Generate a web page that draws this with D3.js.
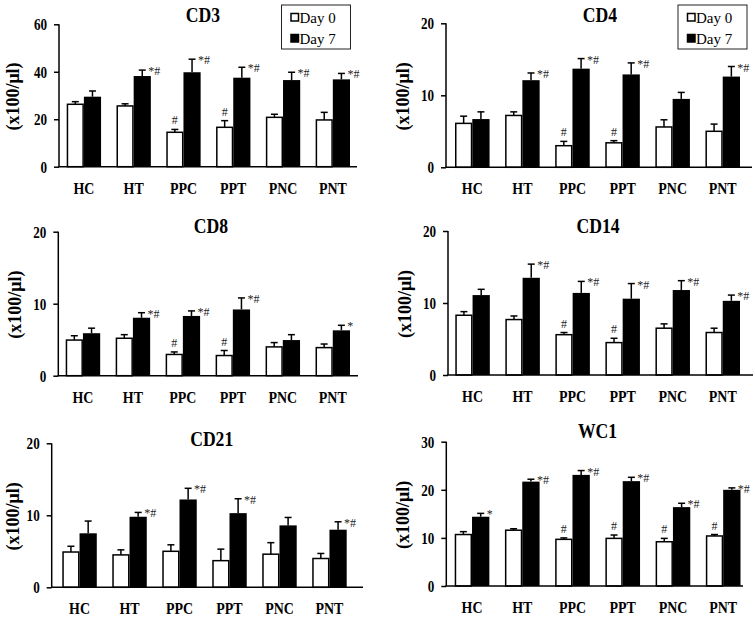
<!DOCTYPE html>
<html>
<head>
<meta charset="utf-8">
<script src="https://cdn.jsdelivr.net/npm/d3@7"></script>
<style>
  html, body { margin: 0; padding: 0; background: #fff; }
  svg { display: block; }
  text { font-family: "Liberation Serif", "Times New Roman", serif; }
</style>
</head>
<body>
<svg id="chart" width="755" height="617"></svg>
<script>
// ---------- DATA ----------
const categories = ["HC", "HT", "PPC", "PPT", "PNC", "PNT"];
const seriesNames = ["Day 0", "Day 7"];
const yLabel = "(x100/\u03bcl)";

const cd3Day0 = [26.3, 25.6, 14.5, 16.6, 20.8, 19.7];
const cd3Day0Err = [1.1, 0.9, 1.2, 2.8, 1.3, 3.2];
const cd3Day7 = [29.5, 38.2, 39.8, 37.5, 36.5, 36.8];
const cd3Day7Err = [2.4, 2.5, 5.5, 4.4, 3.3, 2.5];
const cd3Day0Sig = ["", "", "#", "#", "", ""];
const cd3Day7Sig = ["", "*#", "*#", "*#", "*#", "*#"];
const cd3Ticks = [0, 20, 40, 60];

const cd4Day0 = [6.1, 7.2, 3.0, 3.4, 5.6, 5.0];
const cd4Day0Err = [1.0, 0.5, 0.6, 0.3, 1.0, 1.0];
const cd4Day7 = [6.7, 12.1, 13.7, 12.9, 9.5, 12.6];
const cd4Day7Err = [1.0, 1.0, 1.4, 1.6, 0.9, 1.4];
const cd4Day0Sig = ["", "", "#", "#", "", ""];
const cd4Day7Sig = ["", "*#", "*#", "*#", "", "*#"];
const cd4Ticks = [0, 10, 20];

const cd8Day0 = [4.95, 5.2, 2.95, 2.8, 4.0, 3.9];
const cd8Day0Err = [0.6, 0.5, 0.35, 0.7, 0.6, 0.5];
const cd8Day7 = [5.9, 8.05, 8.3, 9.2, 4.95, 6.3];
const cd8Day7Err = [0.7, 0.7, 0.7, 1.6, 0.75, 0.7];
const cd8Day0Sig = ["", "", "#", "#", "", ""];
const cd8Day7Sig = ["", "*#", "*#", "*#", "", "*"];
const cd8Ticks = [0, 10, 20];

const cd14Day0 = [8.3, 7.7, 5.6, 4.5, 6.5, 5.9];
const cd14Day0Err = [0.5, 0.5, 0.3, 0.6, 0.6, 0.6];
const cd14Day7 = [11.1, 13.5, 11.4, 10.6, 11.8, 10.3];
const cd14Day7Err = [0.8, 1.9, 1.6, 2.1, 1.3, 0.8];
const cd14Day0Sig = ["", "", "#", "#", "", ""];
const cd14Day7Sig = ["", "*#", "*#", "*#", "*#", "*#"];
const cd14Ticks = [0, 10, 20];

const cd21Day0 = [4.9, 4.5, 5.0, 3.7, 4.6, 4.0];
const cd21Day0Err = [0.8, 0.7, 0.9, 1.6, 1.6, 0.7];
const cd21Day7 = [7.5, 9.8, 12.2, 10.3, 8.6, 8.0];
const cd21Day7Err = [1.7, 0.6, 1.55, 2.0, 1.1, 1.1];
const cd21Day0Sig = ["", "", "", "", "", ""];
const cd21Day7Sig = ["", "*#", "*#", "*#", "", "*#"];
const cd21Ticks = [0, 10, 20];

const wc1Day0 = [10.7, 11.6, 9.7, 9.9, 9.2, 10.4];
const wc1Day0Err = [0.6, 0.3, 0.3, 0.7, 0.7, 0.3];
const wc1Day7 = [14.4, 21.7, 23.1, 21.8, 16.4, 20.0];
const wc1Day7Err = [0.7, 0.5, 0.9, 0.8, 0.8, 0.4];
const wc1Day0Sig = ["", "", "#", "#", "#", "#"];
const wc1Day7Sig = ["*", "*#", "*#", "*#", "*#", "*#"];
const wc1Ticks = [0, 10, 20, 30];

// ---------- LAYOUT ----------
const panels = [
  { title: "CD3", d0: cd3Day0, e0: cd3Day0Err, d7: cd3Day7, e7: cd3Day7Err, s0: cd3Day0Sig, s7: cd3Day7Sig, ticks: cd3Ticks,
    axisX: 59, axisEnd: 357, yTop: 24.3, y0: 166.7, barL: 66.7, barR: 350, titleX: 203, titleY: 21.7, labX: 19, legend: [281.5, 5] },
  { title: "CD4", d0: cd4Day0, e0: cd4Day0Err, d7: cd4Day7, e7: cd4Day7Err, s0: cd4Day0Sig, s7: cd4Day7Sig, ticks: cd4Ticks,
    axisX: 446, axisEnd: 752, yTop: 23.3, y0: 167.3, barL: 455, barR: 740, titleX: 600, titleY: 21.7, labX: 409, legend: [678, 5] },
  { title: "CD8", d0: cd8Day0, e0: cd8Day0Err, d7: cd8Day7, e7: cd8Day7Err, s0: cd8Day0Sig, s7: cd8Day7Sig, ticks: cd8Ticks,
    axisX: 58.3, axisEnd: 358, yTop: 231.7, y0: 375.7, barL: 65.7, barR: 350, titleX: 211, titleY: 233, labX: 21, legend: null },
  { title: "CD14", d0: cd14Day0, e0: cd14Day0Err, d7: cd14Day7, e7: cd14Day7Err, s0: cd14Day0Sig, s7: cd14Day7Sig, ticks: cd14Ticks,
    axisX: 448, axisEnd: 753, yTop: 231, y0: 375, barL: 455.3, barR: 740, titleX: 598, titleY: 233, labX: 411, legend: null },
  { title: "CD21", d0: cd21Day0, e0: cd21Day0Err, d7: cd21Day7, e7: cd21Day7Err, s0: cd21Day0Sig, s7: cd21Day7Sig, ticks: cd21Ticks,
    axisX: 51.7, axisEnd: 363, yTop: 443.3, y0: 587.3, barL: 62.3, barR: 346.7, titleX: 211.7, titleY: 446, labX: 19, legend: null },
  { title: "WC1", d0: wc1Day0, e0: wc1Day0Err, d7: wc1Day7, e7: wc1Day7Err, s0: wc1Day0Sig, s7: wc1Day7Sig, ticks: wc1Ticks,
    axisX: 446.3, axisEnd: 743, yTop: 441.7, y0: 586, barL: 454.7, barR: 740.5, titleX: 597.5, titleY: 438.3, labX: 409, legend: null }
];

const SX = 0.82; // horizontal squeeze of the original artwork's lettering

const svg = d3.select("#chart");

function squeezedText(sel, x, y, size, anchor, txt) {
  return sel.append("text")
    .attr("transform", `translate(${x},${y}) scale(${SX},1)`)
    .attr("text-anchor", anchor)
    .attr("font-size", size).attr("font-weight", "bold")
    .text(txt);
}

panels.forEach(p => {
  const g = svg.append("g");
  const maxV = p.ticks[p.ticks.length - 1];
  const y = d3.scaleLinear().domain([0, maxV]).range([p.y0, p.yTop]);
  const x = d3.scaleBand().domain(categories).range([p.barL, p.barR]).paddingInner(0.31).paddingOuter(0);
  const sub = d3.scaleBand().domain(seriesNames).range([0, x.bandwidth()]).padding(0);

  const rows = categories.map((c, i) => ({
    c,
    vals: [
      { s: seriesNames[0], v: p.d0[i], e: p.e0[i], sig: p.s0[i] },
      { s: seriesNames[1], v: p.d7[i], e: p.e7[i], sig: p.s7[i] }
    ]
  }));

  const grp = g.selectAll("g.grp").data(rows).enter().append("g")
    .attr("transform", d => `translate(${x(d.c)},0)`);
  grp.selectAll("rect").data(d => d.vals).enter().append("rect")
    .attr("x", d => sub(d.s) + (d.s === seriesNames[0] ? 0.75 : 0))
    .attr("width", d => sub.bandwidth() - (d.s === seriesNames[0] ? 1.5 : 0))
    .attr("y", d => y(d.v))
    .attr("height", d => p.y0 - y(d.v))
    .attr("fill", d => d.s === seriesNames[0] ? "#fff" : "#000")
    .attr("stroke", "#000")
    .attr("stroke-width", d => d.s === seriesNames[0] ? 1.5 : 0);

  grp.selectAll("line.err").data(d => d.vals).enter().append("line")
    .attr("x1", d => sub(d.s) + sub.bandwidth() / 2)
    .attr("x2", d => sub(d.s) + sub.bandwidth() / 2)
    .attr("y1", d => y(d.v))
    .attr("y2", d => y(d.v + d.e))
    .attr("stroke", "#000").attr("stroke-width", 1.5);
  grp.selectAll("line.cap").data(d => d.vals).enter().append("line")
    .attr("x1", d => sub(d.s) + sub.bandwidth() / 2 - 3.5)
    .attr("x2", d => sub(d.s) + sub.bandwidth() / 2 + 3.5)
    .attr("y1", d => y(d.v + d.e))
    .attr("y2", d => y(d.v + d.e))
    .attr("stroke", "#000").attr("stroke-width", 1.5);

  grp.selectAll("text.sig").data(d => d.vals.filter(v => v.sig)).enter().append("text")
    .attr("x", d => d.s === seriesNames[0] ? sub(d.s) + sub.bandwidth() / 2 : sub(d.s) + sub.bandwidth() / 2 + 6)
    .attr("y", d => d.s === seriesNames[0] ? y(d.v + d.e) - 5 : y(d.v + d.e) + 5)
    .attr("text-anchor", d => d.s === seriesNames[0] ? "middle" : "start")
    .attr("font-size", 12)
    .attr("fill", "#222")
    .text(d => d.sig);

  const yAxis = d3.axisLeft(y).tickValues(p.ticks).tickSize(5).tickSizeOuter(0).tickPadding(6);
  const ya = g.append("g").attr("transform", `translate(${p.axisX},0)`).call(yAxis);
  ya.select(".domain").attr("stroke-width", 1.5).attr("d", `M0,${p.yTop}V${p.y0}`);
  ya.selectAll(".tick line").attr("stroke-width", 1.5);
  ya.selectAll(".tick text").remove();
  ya.selectAll(".tick").each(function(d) {
    squeezedText(d3.select(this), -12, 5.5, 16, "end", d).attr("fill", "#000");
  });

  g.append("line").attr("x1", p.axisX - 0.75).attr("x2", p.axisEnd).attr("y1", p.y0).attr("y2", p.y0)
    .attr("stroke", "#000").attr("stroke-width", 1.5);

  categories.forEach(c => {
    squeezedText(g, x(c) + x.bandwidth() / 2, p.y0 + 27, 17, "middle", c);
  });

  squeezedText(g, p.titleX, p.titleY, 21.5, "middle", p.title);

  g.append("text")
    .attr("transform", `translate(${p.labX},${(p.yTop + p.y0) / 2 + 1}) rotate(-90)`)
    .attr("text-anchor", "middle")
    .attr("font-size", 18).attr("font-weight", "bold")
    .text(yLabel);

  if (p.legend) {
    const [lx, ly] = p.legend;
    const lg = g.append("g").attr("transform", `translate(${lx},${ly})`);
    lg.append("rect").attr("x", 0).attr("y", 0).attr("width", 69).attr("height", 44)
      .attr("fill", "#fff").attr("stroke", "#222").attr("stroke-width", 1);
    seriesNames.forEach((s, i) => {
      lg.append("rect").attr("x", 9.5).attr("y", 8.5 + i * 21).attr("width", 7.5).attr("height", 7.5)
        .attr("fill", i === 0 ? "#fff" : "#000").attr("stroke", "#000").attr("stroke-width", 1.5);
      lg.append("text").attr("x", 18).attr("y", 17.5 + i * 21)
        .attr("font-size", 15).text(s);
    });
  }
});
</script>
</body>
</html>
